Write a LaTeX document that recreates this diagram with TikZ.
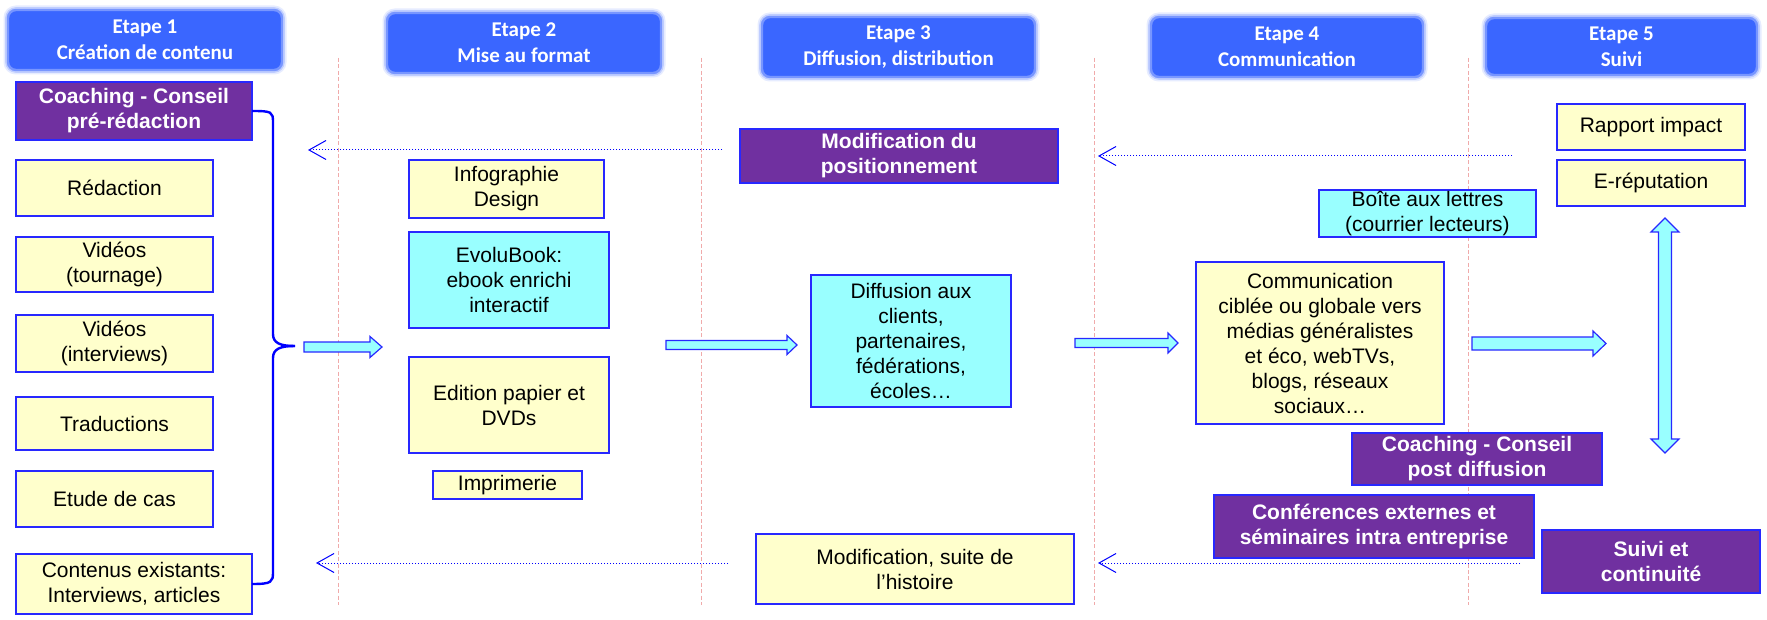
\documentclass[tikz,border=0pt]{standalone}
\usepackage{fontspec}
\setmainfont{Liberation Sans}
\newfontfamily\hdfont{Carlito}
\usetikzlibrary{fit,arrows.meta}
\definecolor{hdblue}{RGB}{58,102,255}
\definecolor{hdglow}{RGB}{120,150,255}
\definecolor{bordblue}{RGB}{40,40,255}
\definecolor{yel}{RGB}{255,255,204}
\definecolor{cyanf}{RGB}{153,255,255}
\definecolor{purp}{RGB}{112,48,160}
\definecolor{sepc}{RGB}{240,170,170}
\definecolor{fbc}{RGB}{0,0,255}
\newcommand\myharrow[6]{%
  \draw[blockar] (#1,#3-#4) -- (#2-#6,#3-#4) -- (#2-#6,#3-#5) -- (#2,#3)
    -- (#2-#6,#3+#5) -- (#2-#6,#3+#4) -- (#1,#3+#4) -- cycle;}
\begin{document}
\begin{tikzpicture}[x=0.5pt,y=-0.5pt,
  every node/.style={inner sep=0pt,outer sep=0pt},
  ybox/.style={draw=bordblue,line width=0.6pt,fill=yel,align=center,
    font=\fontsize{10.5pt}{12.5pt}\selectfont},
  cbox/.style={ybox,fill=cyanf},
  pbox/.style={draw=bordblue,line width=0.6pt,fill=purp,text=white,align=center,
    font=\fontsize{10.5pt}{12.5pt}\selectfont\bfseries},
  hdr/.style={fill=hdblue,rounded corners=4pt,text=white,align=center,
    preaction={draw=hdglow,draw opacity=0.18,line width=4.5pt},
    preaction={draw=hdglow,draw opacity=0.35,line width=2.8pt},
    draw=hdglow,line width=1.2pt,
    font=\fontsize{10.5pt}{12.5pt}\selectfont\hdfont\bfseries},
  hdtxt/.style={text=white,align=center,font=\fontsize{10.5pt}{13pt}\selectfont\hdfont\bfseries},
  btxt/.style={align=center,font=\fontsize{10.5pt}{12.5pt}\selectfont},
  ptxt/.style={text=white,align=center,font=\fontsize{10.5pt}{12.5pt}\selectfont\bfseries},
  sepline/.style={draw=sepc,line width=0.5pt,dash pattern=on 2pt off 1.2pt},
  fbline/.style={draw=fbc,line width=0.5pt,densely dotted,
    -{Straight Barb[length=8.5pt,width=9.5pt,line width=0.5pt]}},
  blockar/.style={draw=bordblue,line width=0.6pt,fill=cyanf},
  bracel/.style={draw=blue,line width=1.2pt}]
\useasboundingbox (0,0) rectangle (1767,620);
\fill[white] (0,0) rectangle (1767,620);

% separators
\foreach \x in {338,701,1094,1468} \draw[sepline] (\x,58) -- (\x,605);

% feedback arrows
\coordinate (fb1s) at (722,150);  \coordinate (fb1e) at (308,150);
\coordinate (fb2s) at (1512,156); \coordinate (fb2e) at (1098,156);
\coordinate (fb3s) at (728,563);  \coordinate (fb3e) at (316,563);
\coordinate (fb4s) at (1520,563); \coordinate (fb4e) at (1098,563);
\draw[fbline] (fb1s) -- (fb1e);
\draw[fbline] (fb2s) -- (fb2e);
\draw[fbline] (fb3s) -- (fb3e);
\draw[fbline] (fb4s) -- (fb4e);

% headers
\node[hdr,fit={(8,10) (282,70)}] (h1) {};
\node at (h1.center) [hdtxt] (h1t) {Etape 1\\Création de contenu};
\node[hdr,fit={(387,13) (661,73)}] (h2) {};
\node at (h2.center) [hdtxt] (h2t) {Etape 2\\Mise au format};
\node[hdr,fit={(762,17) (1035,77)}] (h3) {};
\node at (h3.center) [hdtxt] (h3t) {Etape 3\\Diffusion, distribution};
\node[hdr,fit={(1151,17) (1423,77)}] (h4) {};
\node at (h4.center) [hdtxt] (h4t) {Etape 4\\Communication};
\node[hdr,fit={(1486,18) (1757,75)}] (h5) {};
\node at (h5.center) [hdtxt] (h5t) {Etape 5\\Suivi};

% column 1
\node[pbox,fit={(16,82) (252,140)}] (coach) {};
\node at (coach.center) [ptxt] {Coaching - Conseil\\pré-rédaction};
\node[ybox,fit={(16,160) (213,216)}] (redac) {};
\node at (redac.center) [btxt] {Rédaction};
\node[ybox,fit={(16,237) (213,292)}] (vidt) {};
\node at (vidt.center) [btxt] {Vidéos\\(tournage)};
\node[ybox,fit={(16,315) (213,372)}] (vidi) {};
\node at (vidi.center) [btxt] {Vidéos\\(interviews)};
\node[ybox,fit={(16,397) (213,450)}] (trad) {};
\node at (trad.center) [btxt] {Traductions};
\node[ybox,fit={(16,471) (213,527)}] (etude) {};
\node at (etude.center) [btxt] {Etude de cas};
\node[ybox,fit={(16,554) (252,614)}] (cont) {};
\node at (cont.center) [btxt] {Contenus existants:\\Interviews, articles};

% brace
\coordinate (brtip) at (295,346);
\draw[bracel] (coach.east) .. controls (272,111) and (273,112) .. (273,122)
  -- (273,334) .. controls (273,343) and (280,346) .. (brtip);
\draw[bracel] (cont.east) .. controls (272,584) and (273,582) .. (273,572)
  -- (273,358) .. controls (273,349) and (280,346) .. (brtip);

% column 2
\node[ybox,fit={(409,160) (604,218)}] (info) {};
\node at (info.center) [btxt] {Infographie\\Design};
\node[cbox,fit={(409,232) (609,328)}] (evolu) {};
\node at (evolu.center) [btxt] {EvoluBook:\\ebook enrichi\\interactif};
\node[ybox,fit={(409,357) (609,453)}] (edit) {};
\node at (edit.center) [btxt] {Edition papier et\\DVDs};
\node[ybox,fit={(433,471) (582,499)}] (impr) {};
\node at (impr.center) [btxt] {Imprimerie};

% column 3
\node[pbox,fit={(740,129) (1058,183)}] (modpos) {};
\node at (modpos.center) [ptxt] {Modification du\\positionnement};
\node[cbox,fit={(811,275) (1011,407)}] (diff) {};
\node at (diff.center) [btxt] {Diffusion aux\\clients,\\partenaires,\\fédérations,\\écoles…};
\node[ybox,fit={(756,534) (1074,604)}] (modsuite) {};
\node at (modsuite.center) [btxt] {Modification, suite de\\l’histoire};

% column 4
\node[cbox,fit={(1319,190) (1536,237)}] (boite) {};
\node at (boite.center) [btxt] {Boîte aux lettres\\(courrier lecteurs)};
\node[ybox,fit={(1196,262) (1444,424)}] (comm) {};
\node at (comm.center) [btxt] {Communication\\ciblée ou globale vers\\médias généralistes\\et éco, webTVs,\\blogs, réseaux\\sociaux…};
\node[pbox,fit={(1352,433) (1602,485)}] (cpost) {};
\node at (cpost.center) [ptxt] {Coaching - Conseil\\post diffusion};
\node[pbox,fit={(1214,495) (1534,558)}] (conf) {};
\node at (conf.center) [ptxt] {Conférences externes et\\séminaires intra entreprise};

% column 5
\node[ybox,fit={(1557,104) (1745,150)}] (rapport) {};
\node at (rapport.center) [btxt] {Rapport impact};
\node[ybox,fit={(1557,160) (1745,206)}] (erep) {};
\node at (erep.center) [btxt] {E-réputation};
\node[pbox,fit={(1542,530) (1760,593)}] (suivi) {};
\node at (suivi.center) [ptxt] {Suivi et\\continuité};

% block arrows
\myharrow{304}{382}{347}{5}{10.5}{12}
\myharrow{666}{797}{345}{4.5}{9.5}{10}
\myharrow{1075}{1178}{343}{4.5}{10}{10}
\myharrow{1472}{1606}{343.5}{6.5}{12.5}{13}
\draw[blockar] (1665,218) -- (1679,232) -- (1671.5,232) -- (1671.5,439) -- (1679,439)
  -- (1665,453) -- (1651,439) -- (1658.5,439) -- (1658.5,232) -- (1651,232) -- cycle;
\end{tikzpicture}
\end{document}
